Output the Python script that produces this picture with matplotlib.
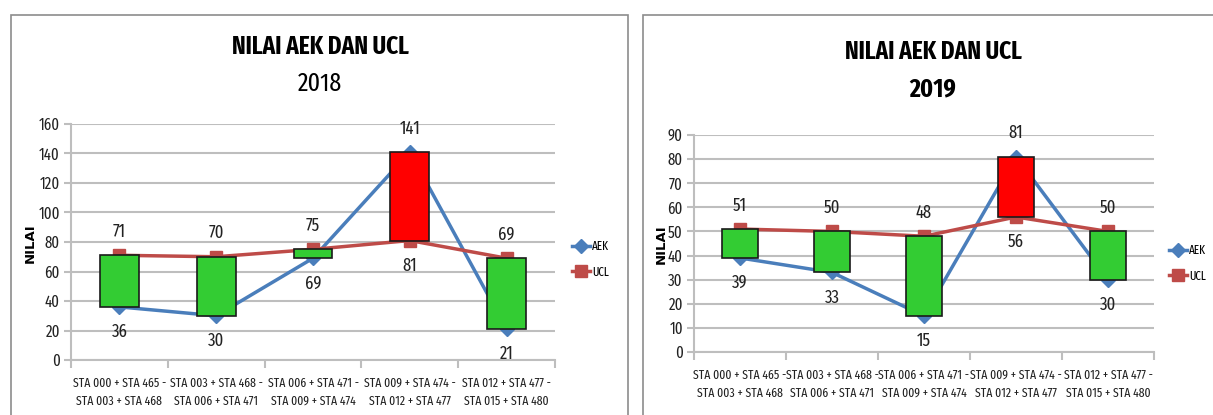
import matplotlib
matplotlib.use("Agg")
import matplotlib.pyplot as plt
from matplotlib.patches import Rectangle
from matplotlib.textpath import TextPath
from matplotlib.font_manager import FontProperties
import numpy as np

FONT = ["Fira Sans Extra Condensed", "Roboto Condensed", "DejaVu Sans"]
plt.rcParams["font.family"] = FONT

categories_2018 = [
    "STA 000 + STA 465 -\nSTA 003 + STA 468",
    "STA 003 + STA 468 -\nSTA 006 + STA 471",
    "STA 006 + STA 471 -\nSTA 009 + STA 474",
    "STA 009 + STA 474 -\nSTA 012 + STA 477",
    "STA 012 + STA 477 -\nSTA 015 + STA 480",
]
categories_2019 = [
    "STA 000 + STA 465 -\nSTA 003 + STA 468",
    "STA 003 + STA 468 -\nSTA 006 + STA 471",
    "STA 006 + STA 471 -\nSTA 009 + STA 474",
    "STA 009 + STA 474 -\nSTA 012 + STA 477",
    "STA 012 + STA 477 -\nSTA 015 + STA 480",
]
aek_2018 = [36, 30, 69, 141, 21]
ucl_2018 = [71, 70, 75, 81, 69]
aek_2019 = [39, 33, 15, 81, 30]
ucl_2019 = [51, 50, 48, 56, 50]
yticks_2018 = [0, 20, 40, 60, 80, 100, 120, 140, 160]
yticks_2019 = [0, 10, 20, 30, 40, 50, 60, 70, 80, 90]

BLUE = "#4A7EBB"
RED = "#BE4B48"
GREEN = "#33CC33"
BOXRED = "#FF0000"
GRID = "#BEBEBE"

W, H = 1213, 415
DPI = 100
fig = plt.figure(figsize=(W / DPI, H / DPI), dpi=DPI)


def fit_size(text, target_px, weight="normal"):
    """font size (pt) so that text is target_px wide"""
    fp = FontProperties(family=FONT, weight=weight, size=10)
    tp = TextPath((0, 0), text, prop=fp)
    w_pt = tp.get_extents().width
    w_px = w_pt * DPI / 72
    return 10 * target_px / w_px


TITLE_FS = fit_size("NILAI AEK DAN UCL", 176, "bold")
YEAR_FS = fit_size("2018", 43)
CAT_FS = fit_size("STA 003 + STA 468", 85)
NUM_FS = fit_size("141", 19)
TICK_FS = fit_size("160", 20)
LEG_FS = fit_size("AEK", 17)


def fx(px):
    return px / W


def fy(py):
    return 1 - py / H


# panel frames
for (x0, x1) in [(11, 628), (643, 1230)]:
    fig.patches.append(Rectangle((fx(x0), fy(430)), fx(x1 - x0), (430 - 15) / H,
                                 transform=fig.transFigure, fill=False,
                                 edgecolor="#8C8C8C", linewidth=1.2))


def panel(rect, cats, aek, ucl, yticks, ymax, title_xy, year, year_bold,
          legend_xy, ylabel_xy):
    ax = fig.add_axes(rect)
    x = np.arange(len(cats))
    ax.set_xlim(-0.5, len(cats) - 0.5)
    ax.set_ylim(0, ymax)
    ax.set_yticks(yticks)
    ax.set_yticklabels([str(t) for t in yticks], fontsize=TICK_FS)
    ax.grid(axis="y", color=GRID, linewidth=1.5, zorder=0)
    ax.set_axisbelow(True)
    for s in ["top", "right"]:
        ax.spines[s].set_visible(False)
    for s in ["left", "bottom"]:
        ax.spines[s].set_color(GRID)
        ax.spines[s].set_linewidth(1.5)
    ax.tick_params(axis="y", length=5, color=GRID, width=1.5, pad=3,
                   labelcolor="#222222")
    ax.set_xticks(x)
    ax.set_xticklabels(cats, fontsize=CAT_FS, linespacing=1.6,
                       color="#222222")
    ax.tick_params(axis="x", length=0, pad=12)
    ax.set_xticks(np.arange(len(cats) + 1) - 0.5, minor=True)
    ax.tick_params(axis="x", which="minor", length=6, color=GRID, width=1.5)

    ax.plot(x, aek, color=BLUE, linewidth=2.5, marker="D", markersize=7,
            label="AEK", zorder=3)
    ax.plot(x, ucl, color=RED, linewidth=2.5, marker="s", markersize=8,
            label="UCL", zorder=3)
    for i in range(len(x)):
        lo, hi = min(aek[i], ucl[i]), max(aek[i], ucl[i])
        col = BOXRED if aek[i] > ucl[i] else GREEN
        ax.bar(x[i], hi - lo, bottom=lo, width=0.4, color=col,
               edgecolor="#1A1A1A", linewidth=1.2, zorder=4)
        ax.annotate(str(hi), (x[i], hi), xytext=(0, 17),
                    textcoords="offset points", ha="center", va="center",
                    fontsize=NUM_FS, zorder=5, color="#222222")
        ax.annotate(str(lo), (x[i], lo), xytext=(0, -18),
                    textcoords="offset points", ha="center", va="center",
                    fontsize=NUM_FS, zorder=5, color="#222222")

    fig.text(fx(ylabel_xy[0]), fy(ylabel_xy[1]), "NILAI",
             rotation=90, ha="center", va="center", fontsize=9.5,
             fontweight="bold", family=["DejaVu Sans"])

    fig.text(fx(title_xy[0]), fy(title_xy[1]), "NILAI AEK DAN UCL",
             ha="center", va="center", fontsize=TITLE_FS, fontweight="bold")
    fig.text(fx(title_xy[0]), fy(title_xy[1] + 37), year, ha="center",
             va="center", fontsize=YEAR_FS,
             fontweight="bold" if year_bold else "normal")

    handles, labels = ax.get_legend_handles_labels()
    fig.legend(handles, labels, loc="upper left",
               bbox_to_anchor=(fx(legend_xy[0]), fy(legend_xy[1])),
               frameon=False, fontsize=LEG_FS, handlelength=1.5,
               handletextpad=0.15, labelspacing=1.1, borderaxespad=0,
               borderpad=0)
    return ax


panel([fx(71), fy(360), fx(555 - 71), (360 - 124) / H],
      categories_2018, aek_2018, ucl_2018, yticks_2018, 160,
      (320, 47), "2018", False, (572, 240), (30, 243))
panel([fx(694), fy(352), fx(1154 - 694), (352 - 135) / H],
      categories_2019, aek_2019, ucl_2019, yticks_2019, 90,
      (933, 52), "2019", True, (1169, 244), (661, 244))

fig.savefig("out.png", dpi=DPI, facecolor="white")
